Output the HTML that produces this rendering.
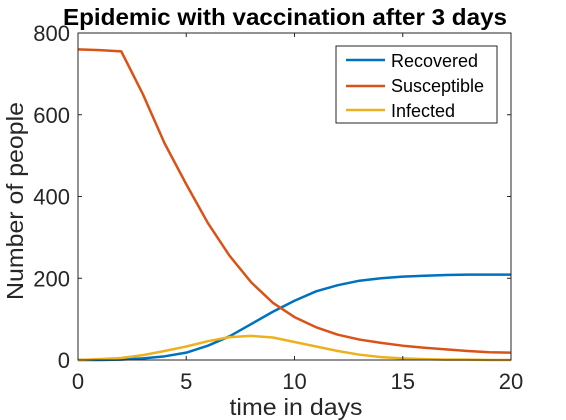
<!DOCTYPE html>
<html><head><meta charset="utf-8"><style>
body{margin:0;background:#fff;}
svg{display:block;font-family:"Liberation Sans","DejaVu Sans",sans-serif;}
</style></head><body>
<svg id="chart" width="566" height="420">
<rect width="566" height="420" fill="#fff"/>
<g id="plot"></g>
<text x="285" y="25" text-anchor="middle" font-size="23" font-weight="bold" fill="#000" textLength="444" lengthAdjust="spacingAndGlyphs">Epidemic with vaccination after 3 days</text>
<text x="296" y="415" text-anchor="middle" font-size="23" fill="#262626" textLength="133" lengthAdjust="spacingAndGlyphs">time in days</text>
<text transform="translate(23,201) rotate(-90)" text-anchor="middle" font-size="23" fill="#262626" textLength="198" lengthAdjust="spacingAndGlyphs">Number of people</text>
<g>
<rect x="336" y="46" width="161" height="77" fill="#fff" stroke="#262626" stroke-width="1"/>
<g><line x1="346" y1="60" x2="385" y2="60" stroke="#0072BD" stroke-width="2.5"/><text x="391" y="67" font-size="18" fill="#000">Recovered</text></g>
<g><line x1="346" y1="86" x2="385" y2="86" stroke="#D95319" stroke-width="2.5"/><text x="391" y="92" font-size="18" fill="#000">Susceptible</text></g>
<g><line x1="346" y1="110" x2="385" y2="110" stroke="#EDB120" stroke-width="2.5"/><text x="391" y="117" font-size="18" fill="#000">Infected</text></g>
</g>
</svg>
<script>
const days=[0,1,2,3,4,5,6,7,8,9,10,11,12,13,14,15,16,17,18,19,20];
const recovered=[0,0,1,4,9,18,35,58,88,118,145,168,183,194,200,204,206,208,209,209,209];
const susceptible=[760,758,755,650,530,430,335,255,190,140,105,80,62,50,42,35,30,26,22,19,18];
const infected=[0,2,5,12,22,33,46,56,59,55,44,33,22,13,7,4,2,1,1,0,0];
const xTicks=[0,5,10,15,20];
const yTicks=[0,200,400,600,800];
const L=78,R=511,T=33,B=360;
const sx=v=>L+(v-0)/(20-0)*(R-L);
const sy=v=>B-(v-0)/(800-0)*(B-T);
const NS='http://www.w3.org/2000/svg';
const g=document.getElementById('plot');
function mk(t,a){const e=document.createElementNS(NS,t);for(const k in a)e.setAttribute(k,a[k]);g.appendChild(e);return e;}
function series(vals,color,name){
  const p=mk('polyline',{points:days.map((d,i)=>sx(d)+','+sy(vals[i])).join(' '),fill:'none',stroke:color,'stroke-width':2.5,'stroke-linejoin':'round'});
  
  
}
series(recovered,'#0072BD','recovered-line');
series(susceptible,'#D95319','susceptible-line');
series(infected,'#EDB120','infected-line');
const box=mk('rect',{x:L,y:T,width:R-L,height:B-T,fill:'none',stroke:'#262626','stroke-width':1});


xTicks.forEach(v=>{
  const x=sx(v);
  const t1=mk('line',{x1:x,y1:B,x2:x,y2:B-4,stroke:'#262626'});
  
  
  const t2=mk('line',{x1:x,y1:T,x2:x,y2:T+4,stroke:'#262626'});
  
  
  const tx=mk('text',{x:x,y:B+29,'text-anchor':'middle','font-size':22,fill:'#262626'});
  tx.textContent=v;
  
  
});
yTicks.forEach(v=>{
  const y=sy(v);
  const t1=mk('line',{x1:L,y1:y,x2:L+4,y2:y,stroke:'#262626'});
  
  
  const t2=mk('line',{x1:R,y1:y,x2:R-4,y2:y,stroke:'#262626'});
  
  
  const tx=mk('text',{x:L-8,y:y+8,'text-anchor':'end','font-size':22,fill:'#262626'});
  tx.textContent=v;
  
  
});
</script>
</body></html>
